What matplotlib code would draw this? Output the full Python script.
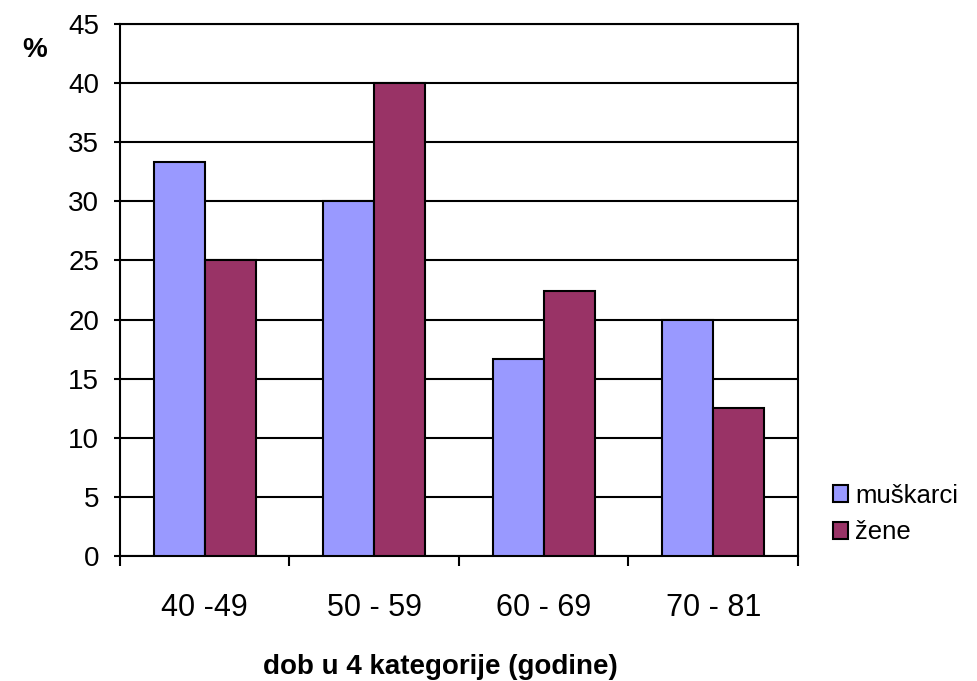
import numpy as np
import matplotlib.pyplot as plt

kategorije = ['40 -49', '50 - 59', '60 - 69', '70 - 81']
muskarci = [33.3, 30.0, 16.7, 20.0]
zene = [25.0, 40.0, 22.4, 12.5]

plt.rcParams['font.family'] = ['Liberation Sans', 'DejaVu Sans']

fig = plt.figure(figsize=(9.78, 6.81), dpi=100)
ax = fig.add_axes([120/978, 1-556/681, 678/978, 532/681])

x = np.arange(len(kategorije))
w = 0.3
ax.bar(x - w/2, muskarci, w, color='#9999ff', edgecolor='black', lw=1.5, label='muškarci', zorder=3)
ax.bar(x + w/2, zene, w, color='#993366', edgecolor='black', lw=1.5, label='žene', zorder=3)

ax.set_xlim(-0.5, 3.5)
ax.set_ylim(0, 45)
ax.set_yticks(range(0, 46, 5))
ax.set_xticks(x)
ax.set_xticklabels(kategorije)
ax.set_xticks(np.arange(-0.5, 3.6, 1), minor=True)
ax.tick_params(axis='x', which='major', length=0, pad=27, labelsize=22)
ax.tick_params(axis='x', which='minor', length=7, width=1.5, direction='out')
ax.tick_params(axis='y', length=4, width=1.5, direction='out', labelsize=20, pad=11)

# mreža
ax.grid(axis='y', color='black', lw=1.5, zorder=0)
for s in ax.spines.values():
    s.set_color('black')
    s.set_linewidth(1.5)

fig.text(440/978, 1-667/681, 'dob u 4 kategorije (godine)', fontsize=20, fontweight='bold',
         ha='center', va='center')
fig.text(35/978, 1-50/681, '%', fontsize=20, fontweight='bold', ha='center', va='center')

ax.legend(loc='center left', bbox_to_anchor=(833/978, 1-514/681), bbox_transform=fig.transFigure,
          frameon=False, fontsize=18.5, handlelength=0.6, handleheight=0.6, handletextpad=0.25,
          labelspacing=0.5, borderaxespad=0, borderpad=0)

plt.savefig('out.png', dpi=100)
